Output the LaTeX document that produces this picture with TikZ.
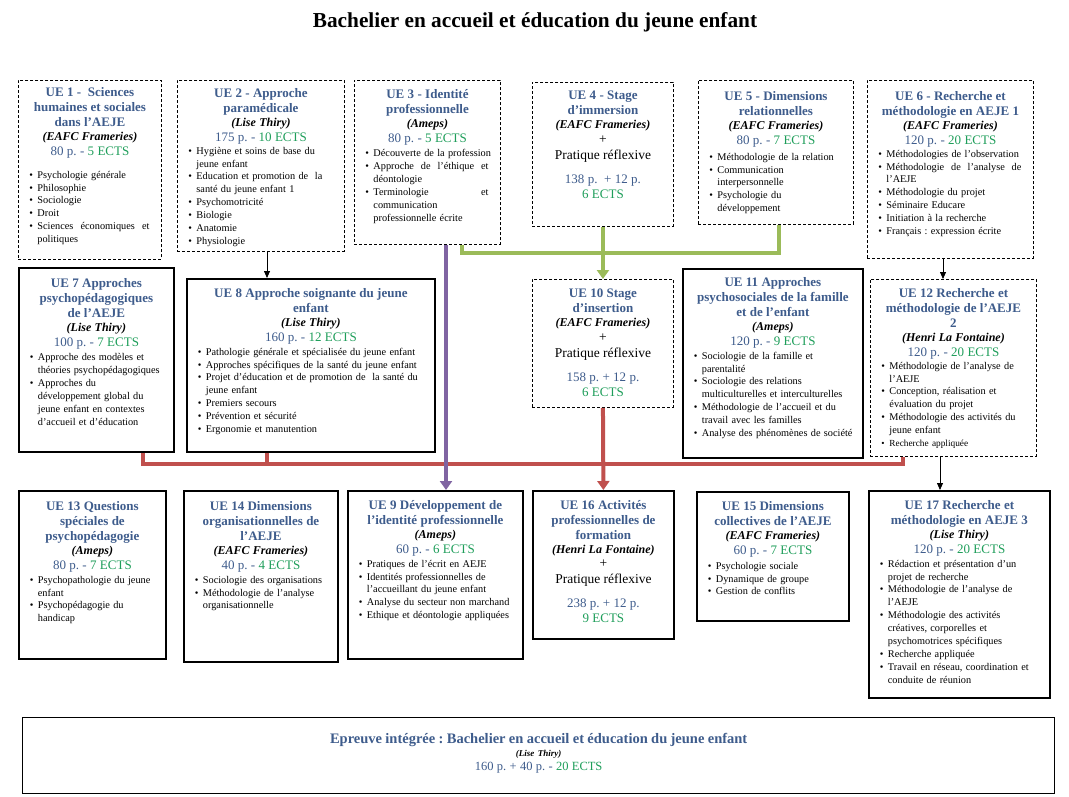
\documentclass[tikz,border=0pt]{standalone}
\usepackage{fontspec}
\setmainfont{Liberation Serif}
\usetikzlibrary{positioning,arrows.meta}
\frenchspacing

\definecolor{uebleu}{RGB}{62,92,140}
\definecolor{uevert}{RGB}{30,158,90}
\definecolor{lienvert}{RGB}{155,187,89}
\definecolor{lienviolet}{RGB}{128,100,162}
\definecolor{lienrouge}{RGB}{192,80,77}

\newcommand{\hd}[1]{{\fontsize{13}{15}\selectfont\bfseries\color{uebleu}#1\par}}
\newcommand{\inst}[1]{{\fontsize{12}{14}\selectfont\bfseries\itshape #1\par}}
\newcommand{\pts}[2]{{\fontsize{13}{15}\selectfont\color{uebleu}#1\textcolor{uevert}{#2}\par}}
\newcommand{\plusprat}{{\fontsize{13.5}{14.5}\selectfont +\par}{\fontsize{13.5}{16}\selectfont Pratique réflexive\par}}
\newcommand{\heures}[2]{{\fontsize{13}{24}\selectfont\color{uebleu}#1\par}{\fontsize{13}{15}\selectfont\color{uevert}#2\par}}
\newcommand{\bul}[1]{{\fontsize{10.3}{12.9}\selectfont\raggedright\leftskip=5pt\hangindent=8pt\hangafter=1\noindent\hbox to 8pt{\textbullet\hfil}#1\par}}
\newcommand{\bulp}[1]{{\fontsize{9.3}{12.9}\selectfont\raggedright\leftskip=5pt\hangindent=8pt\hangafter=1\noindent\hbox to 8pt{\textbullet\hfil}#1\par}}
\newcommand{\jl}[2]{\hbox to #1{\spaceskip=3pt plus 1fil\relax #2}}

\begin{document}
\begin{tikzpicture}[x=1pt,y=-1pt,
  dbox/.style={draw,dash pattern=on 3pt off 2pt,line width=0.9pt,anchor=north west,inner sep=0pt},
  sbox/.style={draw,line width=1.8pt,anchor=north west,inner sep=0pt},
  txt/.style={inner sep=0pt,align=center},
  lien/.style={line width=4pt},
  fleche/.style={-{Triangle[width=12pt,length=9pt]}},
  noir/.style={line width=0.8pt,-{Triangle[width=6pt,length=7pt]}}]
\useasboundingbox[fill=white] (0,0) rectangle (1069,797);

\node[font=\fontsize{21.3}{24}\selectfont\bfseries] (titre) at (535,22) {Bachelier en accueil et éducation du jeune enfant};

% premiere ligne
\node[dbox,minimum width=143pt,minimum height=179pt] (ue1) at (18,80) {};
\node[txt,text width=131pt,below=7pt of ue1.north] (ue1t) {\hd{UE 1 -\ \ Sciences\\humaines et sociales\\dans l’AEJE}\inst{(EAFC Frameries)}\pts{80 p. - }{5 ECTS}\vspace{10pt}
\bul{Psychologie générale}\bul{Philosophie}\bul{Sociologie}\bul{Droit}\bul{\jl{112pt}{Sciences économiques et}\newline politiques}};

\node[dbox,minimum width=167pt,minimum height=171pt] (ue2) at (177,80) {};
\node[txt,text width=155pt,below=8pt of ue2.north] (ue2t) {\hd{UE 2 - Approche\\paramédicale}\inst{(Lise Thiry)}\pts{175 p. - }{10 ECTS}
\bul{Hygiène et soins de base du\newline jeune enfant}\bul{Education et promotion de\ \ la\newline santé du jeune enfant 1}\bul{Psychomotricité}\bul{Biologie}\bul{Anatomie}\bul{Physiologie}};

\node[dbox,minimum width=146pt,minimum height=164pt] (ue3) at (354,80) {};
\node[txt,text width=134pt,below=9pt of ue3.north] (ue3t) {\hd{UE 3 - Identité\\professionnelle}\inst{(Ameps)}\pts{80 p. - }{5 ECTS}\vspace{1.5pt}
\bul{Découverte de la profession}\bul{\jl{115pt}{Approche de l’éthique et}\newline déontologie}\bul{\jl{115pt}{Terminologie et}\newline communication\newline professionnelle écrite}};

\node[dbox,minimum width=141pt,minimum height=144pt] (ue4) at (532,82) {};
\node[txt,text width=129pt,below=9pt of ue4.north] (ue4t) {\hd{UE 4 - Stage\\d’immersion}\inst{(EAFC Frameries)}\plusprat\heures{138 p.\ \ + 12 p.}{6 ECTS}};

\node[dbox,minimum width=155pt,minimum height=144pt] (ue5) at (698,80) {};
\node[txt,text width=143pt,below=11pt of ue5.north] (ue5t) {\hd{UE 5 - Dimensions\\relationnelles}\inst{(EAFC Frameries)}\pts{80 p. - }{7 ECTS}\vspace{3pt}
\bul{Méthodologie de la relation}\bul{Communication\newline interpersonnelle}\bul{Psychologie du\newline développement}};

\node[dbox,minimum width=166pt,minimum height=178pt] (ue6) at (867,80) {};
\node[txt,text width=154pt,below=11pt of ue6.north] (ue6t) {\hd{UE 6 - Recherche et\\méthodologie en AEJE 1}\inst{(EAFC Frameries)}\pts{120 p. - }{20 ECTS}
\bul{Méthodologies de l’observation}\bul{\jl{135pt}{Méthodologie de l’analyse de}\newline l’AEJE}\bul{Méthodologie du projet}\bul{Séminaire Educare}\bul{Initiation à la recherche}\bul{Français : expression écrite}};

% deuxieme ligne
\node[sbox,minimum width=155pt,minimum height=184pt] (ue7) at (18,267) {};
\node[txt,text width=143pt,below=11pt of ue7.north] (ue7t) {\hd{UE 7 Approches\\psychopédagogiques\\de l’AEJE}\inst{(Lise Thiry)}\pts{100 p. - }{7 ECTS}\vspace{1.5pt}
\bul{Approche des modèles et\newline théories psychopédagogiques}\bul{Approches du\newline développement global du\newline jeune enfant en contextes\newline d’accueil et d’éducation}};

\node[sbox,minimum width=248pt,minimum height=173pt] (ue8) at (186,278) {};
\node[txt,text width=236pt,below=10pt of ue8.north] (ue8t) {\hd{UE 8 Approche soignante du jeune\\enfant}\inst{(Lise Thiry)}\pts{160 p. - }{12 ECTS}\vspace{1pt}
\bul{Pathologie générale et spécialisée du jeune enfant}\bul{Approches spécifiques de la santé du jeune enfant}\bul{Projet d’éducation et de promotion de\ \ la santé du\newline jeune enfant}\bul{Premiers secours}\bul{Prévention et sécurité}\bul{Ergonomie et manutention}};

\node[dbox,minimum width=141pt,minimum height=128pt] (ue10) at (532,279) {};
\node[txt,text width=129pt,below=10pt of ue10.north] (ue10t) {\hd{UE 10 Stage\\d’insertion}\inst{(EAFC Frameries)}\plusprat\heures{158 p. + 12 p.}{6 ECTS}};

\node[sbox,minimum width=180pt,minimum height=189pt] (ue11) at (682,268) {};
\node[txt,text width=168pt,below=9pt of ue11.north] (ue11t) {\hd{UE 11 Approches\\psychosociales de la famille\\et de l’enfant}\inst{(Ameps)}\pts{120 p. - }{9 ECTS}\vspace{1pt}
\bul{Sociologie de la famille et\newline parentalité}\bul{Sociologie des relations\newline multiculturelles et interculturelles}\bul{Méthodologie de l’accueil et du\newline travail avec les familles}\bul{Analyse des phénomènes de société}};

\node[dbox,minimum width=166pt,minimum height=177pt] (ue12) at (870,279) {};
\node[txt,text width=154pt,below=9pt of ue12.north] (ue12t) {\hd{UE 12 Recherche et\\méthodologie de l’AEJE\\2}\inst{(Henri La Fontaine)}\pts{120 p. - }{20 ECTS}
\bul{Méthodologie de l’analyse de\newline l’AEJE}\bul{Conception, réalisation et\newline évaluation du projet}\bul{Méthodologie des activités du\newline jeune enfant}\bulp{Recherche appliquée}};

% troisieme ligne
\node[sbox,minimum width=147pt,minimum height=168pt] (ue13) at (18,490) {};
\node[txt,text width=135pt,below=11pt of ue13.north] (ue13t) {\hd{UE 13 Questions\\spéciales de\\psychopédagogie}\inst{(Ameps)}\pts{80 p. - }{7 ECTS}\vspace{1pt}
\bul{Psychopathologie du jeune\newline enfant}\bul{Psychopédagogie du\newline handicap}};

\node[sbox,minimum width=154pt,minimum height=171pt] (ue14) at (183,490) {};
\node[txt,text width=142pt,below=11pt of ue14.north] (ue14t) {\hd{UE 14 Dimensions\\organisationnelles de\\l’AEJE}\inst{(EAFC Frameries)}\pts{40 p. - }{4 ECTS}\vspace{1pt}
\bul{Sociologie des organisations}\bul{Méthodologie de l’analyse\newline organisationnelle}};

\node[sbox,minimum width=175pt,minimum height=168pt] (ue9) at (347,490) {};
\node[txt,text width=163pt,below=10pt of ue9.north] (ue9t) {\hd{UE 9 Développement de\\l’identité professionnelle}\inst{(Ameps)}\pts{60 p. - }{6 ECTS}\vspace{1pt}
\bul{Pratiques de l’écrit en AEJE}\bul{Identités professionnelles de\newline l’accueillant du jeune enfant}\bul{Analyse du secteur non marchand}\bul{Ethique et déontologie appliquées}};

\node[sbox,minimum width=141pt,minimum height=148pt] (ue16) at (532,490) {};
\node[txt,text width=129pt,below=10pt of ue16.north] (ue16t) {\hd{UE 16 Activités\\professionnelles de\\formation}\inst{(Henri La Fontaine)}\plusprat\heures{238 p. + 12 p.}{9 ECTS}};

\node[sbox,minimum width=152pt,minimum height=129pt] (ue15) at (696,491) {};
\node[txt,text width=140pt,below=10pt of ue15.north] (ue15t) {\hd{UE 15 Dimensions\\collectives de l’AEJE}\inst{(EAFC Frameries)}\pts{60 p. - }{7 ECTS}\vspace{2pt}
\bul{Psychologie sociale}\bul{Dynamique de groupe}\bul{Gestion de conflits}};

\node[sbox,minimum width=181pt,minimum height=207pt] (ue17) at (868,490) {};
\node[txt,text width=169pt,below=10pt of ue17.north] (ue17t) {\hd{UE 17 Recherche et\\méthodologie en AEJE 3}\inst{(Lise Thiry)}\pts{120 p. - }{20 ECTS}\vspace{1pt}
\bul{Rédaction et présentation d’un\newline projet de recherche}\bul{Méthodologie de l’analyse de\newline l’AEJE}\bul{Méthodologie des activités\newline créatives, corporelles et\newline psychomotrices spécifiques}\bul{Recherche appliquée}\bul{Travail en réseau, coordination et\newline conduite de réunion}};

% epreuve integree
\node[draw,line width=1.3pt,anchor=north west,inner sep=0pt,minimum width=1032pt,minimum height=76pt] (ei) at (22,717) {};
\node[txt,text width=1000pt,below=16pt of ei.north] (eit) {{\fontsize{14.5}{16}\selectfont\bfseries\color{uebleu}Epreuve intégrée : Bachelier en accueil et éducation du jeune enfant\par}{\fontsize{9}{13}\selectfont\bfseries\itshape (Lise Thiry)\par}{\fontsize{12.5}{14}\selectfont\color{uebleu}160 p. + 40 p. - \textcolor{uevert}{20 ECTS}\par}};

% liens
\draw[noir] ([xshift=90pt]ue2.south west) -- ([xshift=81pt]ue8.north west);
\draw[noir] ([xshift=76pt]ue6.south west) -- ([xshift=73pt]ue12.north west);
\draw[noir] ([xshift=70pt]ue12.south west) -- ([xshift=72pt]ue17.north west);

\draw[lien,lienvert] ([xshift=108pt]ue3.south west) -- ++(0,8) -| ([xshift=81pt]ue5.south west);
\draw[lien,lienvert,fleche] (ue4.south) -- (ue10.north);

\draw[lien,lienrouge] ([xshift=125pt]ue7.south west) -- ++(0,11) -| ([xshift=33pt]ue12.south west);
\draw[lien,lienrouge] ([xshift=81pt]ue8.south west) -- ++(0,11);
\draw[lien,lienrouge,fleche] (ue10.south) -- (ue16.north);

\draw[lien,lienviolet,fleche] ([xshift=92pt]ue3.south west) -- ([xshift=99pt]ue9.north west);
\end{tikzpicture}
\end{document}
